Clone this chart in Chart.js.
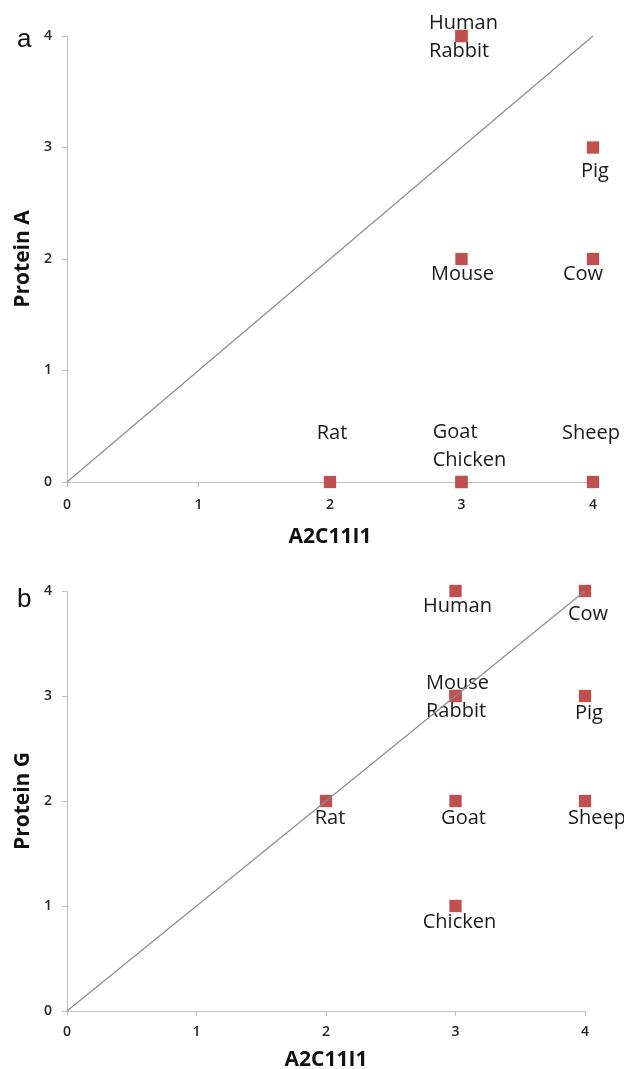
<!DOCTYPE html>
<html>
<head>
<meta charset="utf-8">
<script src="https://cdn.jsdelivr.net/npm/chart.js@4.4.1/dist/chart.umd.min.js"></script>
<style>
  html, body { margin: 0; padding: 0; background: #fff; overflow: hidden; }
  #wrap { position: relative; width: 624px; height: 1069px; overflow: hidden; }
  canvas { position: absolute; left: 0; }
  #chartA { top: 0; }
  #chartB { top: 552px; }
</style>
</head>
<body>
<div id="wrap">
  <canvas id="chartA" width="624" height="552"></canvas>
  <canvas id="chartB" width="624" height="530"></canvas>
</div>
<script>
// values
const animals   = ['Human', 'Mouse', 'Rabbit', 'Pig', 'Cow', 'Rat', 'Goat', 'Chicken', 'Sheep'];
const a2c11i1   = [3, 3, 3, 4, 4, 2, 3, 3, 4];
const proteinA  = [4, 2, 4, 3, 2, 0, 0, 0, 0];
const proteinG  = [4, 3, 3, 3, 4, 2, 2, 1, 2];
const axisTicks = [0, 1, 2, 3, 4];
const identity  = [0, 4];

// where each name sits relative to its marker (px)
const placeA = { Human: [2, 1], Pig: [2, 24], Mouse: [1, 15], Cow: [-10, 15], Rat: [2, -49], Goat: [8, -36], Sheep: [-2, -49] };
const placeB = { Human: [2, 15], Cow: [3, 23], Mouse: [2, 1], Pig: [4, 17], Rat: [4, 17], Goat: [8, 17], Sheep: [12, 17], Chicken: [4, 16] };

Chart.defaults.font.family = '"Open Sans", sans-serif';

const pointNames = {
  id: 'pointNames',
  beforeDatasetsDraw(chart, args, opts) {
    const meta = chart.getDatasetMeta(0);
    const ctx = chart.ctx;
    let groups = [];
    animals.forEach((name, i) => {
      const el = meta.data[i];
      let g = groups.find(g => g.x === el.x && g.y === el.y);
      if (!g) {
        g = { x: el.x, y: el.y, names: [] };
        groups.push(g);
      }
      g.names.push(name);
    });
    ctx.save();
    ctx.font = '20px "Open Sans"';
    ctx.fillStyle = '#1a1a1a';
    ctx.textBaseline = 'middle';
    const lineH = 28;
    groups.forEach(g => {
      const [dx, dy] = opts.placement[g.names[0]] || [0, 0];
      const w = Math.max(...g.names.map(n => ctx.measureText(n).width));
      const top = g.y + dy - (g.names.length - 1) * lineH / 2;
      g.names.forEach((n, k) => {
        if (g.names.length > 1) {
          ctx.textAlign = 'left';
          ctx.fillText(n, g.x + dx - w / 2, top + k * lineH);
        } else {
          ctx.textAlign = 'center';
          ctx.fillText(n, g.x + dx, top);
        }
      });
    });
    ctx.restore();
  },
  afterDraw(chart, args, opts) {
    const ctx = chart.ctx;
    ctx.save();
    ctx.font = '26px "Liberation Sans"';
    ctx.fillStyle = '#111';
    ctx.textBaseline = 'alphabetic';
    ctx.textAlign = 'left';
    ctx.fillText(opts.letter, opts.letterAt[0], opts.letterAt[1]);
    ctx.restore();
  }
};

function axis(title, fitSize, isX, tickPad, titlePad) {
  return {
    type: 'linear',
    min: 0,
    max: 4,
    offset: false,
    afterBuildTicks: s => { s.ticks = axisTicks.map(v => ({ value: v })); },
    afterFit: s => { if (isX) s.height = fitSize; else s.width = fitSize; },
    border: { color: '#bfbfbf', width: 1 },
    grid: { drawOnChartArea: false, drawTicks: true, tickLength: 5, color: '#bfbfbf' },
    ticks: { padding: tickPad, color: '#262626', font: { size: 14, weight: '600' }, maxRotation: 0 },
    title: { display: true, text: title, color: '#111', font: { size: 21, weight: 'bold' }, padding: titlePad }
  };
}

function makePanel(id, yValues, yTitle, opt) {
  const pts = animals.map((n, i) => ({ x: a2c11i1[i], y: yValues[i] }));
  return new Chart(document.getElementById(id), {
    type: 'scatter',
    data: {
      datasets: [
        {
          data: pts,
          backgroundColor: '#C0504D',
          borderColor: '#C0504D',
          borderWidth: 0,
          pointStyle: 'rect',
          pointRadius: 8.7,
          clip: false,
          order: 1
        },
        {
          type: 'line',
          data: identity.map(v => ({ x: v, y: v })),
          borderColor: '#8c8c8c',
          borderWidth: 1.2,
          pointRadius: 0,
          fill: false,
          clip: false,
          order: 0
        }
      ]
    },
    options: {
      responsive: false,
      animation: false,
      devicePixelRatio: 1,
      events: [],
      layout: { padding: { top: opt.top, right: opt.right, left: 0, bottom: 0 } },
      plugins: {
        legend: { display: false },
        tooltip: { enabled: false },
        pointNames: { placement: opt.placement, letter: opt.letter, letterAt: opt.letterAt }
      },
      scales: {
        x: axis('A2C11I1', opt.xHeight, true, opt.xTickPad, { top: 0, bottom: opt.xTitlePad }),
        y: axis(yTitle, 67, false, 10, { top: 10, bottom: 0 })
      }
    },
    plugins: [pointNames]
  });
}

makePanel('chartA', proteinA, 'Protein A', {
  top: 36, right: 31, xHeight: 70, xTickPad: 10, xTitlePad: 2,
  placement: placeA, letter: 'a', letterAt: [17, 47]
});

makePanel('chartB', proteinG, 'Protein G', {
  top: 39, right: 39, xHeight: 71, xTickPad: 8, xTitlePad: 9,
  placement: placeB, letter: 'b', letterAt: [17, 55]
});
</script>
</body>
</html>
